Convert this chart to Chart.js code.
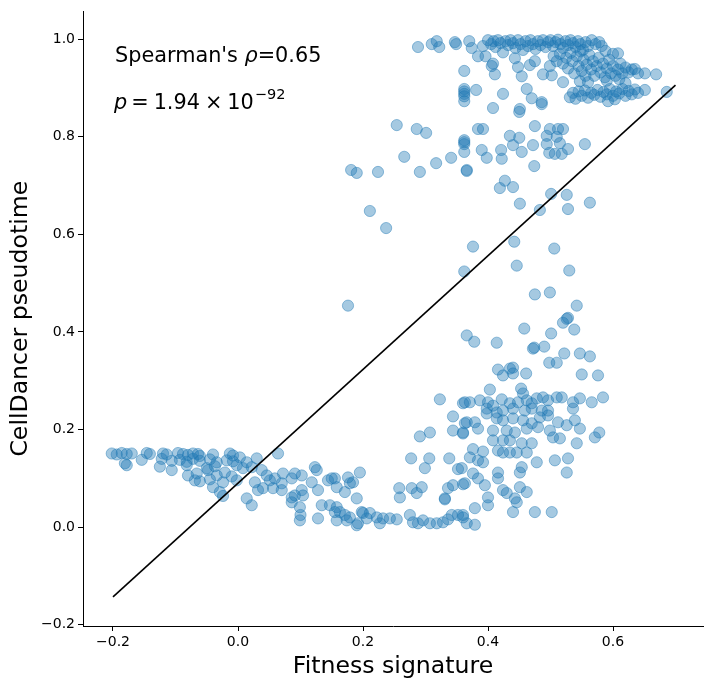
<!DOCTYPE html>
<html>
<head>
<meta charset="utf-8">
<title>Fitness signature vs CellDancer pseudotime</title>
<script src="https://cdn.jsdelivr.net/npm/chart.js@4.4.0/dist/chart.umd.min.js"></script>
<style>
  html, body { margin: 0; padding: 0; background: #fff; }
  canvas { display: block; }
</style>
</head>
<body>
<canvas id="fitnessChart" width="712" height="689"></canvas>
<script>
// [fitness signature, celldancer pseudotime], grouped by region
const earlyCells = [
  [-0.202,0.151],[-0.194,0.149],[-0.186,0.152],[-0.178,0.150],[-0.170,0.151],[-0.146,0.152],[-0.141,0.150],
  [-0.120,0.151],[-0.114,0.149],[-0.096,0.152],[-0.088,0.150],[-0.080,0.148],[-0.072,0.151],[-0.064,0.150],
  [-0.061,0.146],[-0.040,0.149],[-0.013,0.151],[-0.008,0.147],
  [-0.181,0.131],[-0.154,0.138],[-0.122,0.140],[-0.106,0.136],[-0.093,0.138],[-0.082,0.134],[-0.072,0.140],
  [-0.061,0.136],[-0.045,0.139],[-0.034,0.133],[-0.018,0.137],[-0.008,0.135],
  [-0.178,0.127],[-0.125,0.124],[-0.082,0.127],[-0.050,0.121],[-0.037,0.125],
  [-0.106,0.117],[-0.080,0.106],[-0.066,0.110],[-0.048,0.117],[-0.034,0.106],[-0.021,0.112],[-0.010,0.104],
  [-0.069,0.096],[-0.061,0.094],[-0.045,0.098],[-0.024,0.092],[-0.002,0.096],[-0.040,0.082],[-0.029,0.072],
  [-0.024,0.064]
];
const transitionCells = [
  [0.003,0.143],[0.014,0.133],[0.030,0.141],[0.064,0.151],[-0.002,0.127],[0.008,0.121],[0.022,0.123],
  [0.038,0.117],[0.046,0.106],[0.051,0.096],[0.059,0.100],[0.070,0.090],[0.072,0.110],[0.086,0.100],
  [0.102,0.106],[0.091,0.110],[0.123,0.123],[0.126,0.117],[0.118,0.092],[0.128,0.076],[0.102,0.076],
  [0.104,0.065],[0.091,0.065],[0.086,0.051],[0.099,0.041],[0.099,0.014],[0.100,0.025],[0.128,0.018],
  [0.134,0.045],[0.147,0.045],[0.144,0.096],[0.155,0.100],[0.176,0.102],[0.179,0.090],[0.184,0.092],
  [0.171,0.072],[0.190,0.059],[0.195,0.112],[0.158,0.041],[0.163,0.031],[0.171,0.025],[0.179,0.020],
  [0.190,0.004],[0.200,0.029],[0.206,0.018],[0.014,0.059],[0.022,0.045],[0.040,0.080],[0.032,0.076],
  [0.027,0.092],[0.056,0.080],[0.070,0.076],[0.086,0.061],
  [0.158,0.082],[0.150,0.100],[0.155,0.031],[0.174,0.014],[0.158,0.014],[0.192,0.008],[0.198,0.031],
  [0.211,0.029],[0.222,0.020],[0.232,0.018],[0.243,0.018],[0.254,0.016],[0.227,0.008],[0.275,0.025],
  [0.280,0.010],[0.288,0.008],[0.296,0.014],[0.307,0.008],[0.318,0.008],[0.328,0.010],[0.336,0.016],
  [0.342,0.025],[0.360,0.020],[0.366,0.008]
];
const lowLateCells = [
  [0.323,0.262],[0.360,0.254],[0.344,0.227],[0.363,0.213],[0.344,0.198],[0.360,0.192],[0.291,0.186],
  [0.307,0.194],[0.277,0.141],[0.306,0.141],[0.299,0.121],[0.338,0.141],[0.352,0.119],[0.258,0.080],
  [0.259,0.061],[0.278,0.080],[0.294,0.082],[0.286,0.070],[0.336,0.080],[0.344,0.086],[0.331,0.059],
  [0.331,0.057],[0.360,0.088],[0.352,0.025],
  [0.416,0.323],[0.424,0.311],[0.435,0.325],[0.440,0.327],[0.440,0.315],[0.461,0.315],[0.498,0.337],
  [0.510,0.337],[0.550,0.313],[0.576,0.311],[0.403,0.282],[0.453,0.284],[0.456,0.274],[0.363,0.256],
  [0.371,0.256],[0.387,0.260],[0.400,0.256],[0.408,0.249],[0.422,0.262],[0.435,0.254],[0.448,0.256],
  [0.462,0.260],[0.470,0.254],[0.478,0.264],[0.488,0.266],[0.496,0.260],[0.510,0.266],[0.518,0.266],
  [0.536,0.256],[0.547,0.264],[0.566,0.256],[0.584,0.266],[0.398,0.243],[0.398,0.233],[0.414,0.235],
  [0.424,0.239],[0.440,0.243],[0.459,0.239],[0.470,0.243],[0.486,0.239],[0.496,0.239],[0.536,0.243],
  [0.483,0.225],[0.496,0.229],[0.512,0.215],[0.539,0.219],[0.414,0.223],[0.424,0.219],[0.440,0.223],
  [0.456,0.219],[0.470,0.213],[0.480,0.205],[0.366,0.215],[0.379,0.215],[0.384,0.202],[0.360,0.194],
  [0.408,0.198],[0.430,0.198],[0.443,0.194],[0.462,0.202],[0.499,0.198],[0.526,0.209],[0.547,0.202],
  [0.504,0.184],[0.515,0.182],[0.571,0.184],[0.578,0.194],[0.408,0.178],[0.424,0.178],[0.435,0.178],
  [0.454,0.172],[0.470,0.172],[0.542,0.172],[0.416,0.157],[0.424,0.153],[0.435,0.153],[0.446,0.153],
  [0.462,0.153],[0.376,0.160],[0.392,0.155],[0.371,0.143],[0.384,0.137],[0.392,0.133],[0.478,0.133],
  [0.507,0.137],[0.528,0.141],[0.454,0.123],[0.526,0.112],[0.416,0.112],[0.451,0.112],[0.358,0.121],
  [0.376,0.110],[0.384,0.100],[0.416,0.100],[0.395,0.086],[0.363,0.090],[0.424,0.076],[0.451,0.082],
  [0.462,0.072],[0.430,0.070],[0.443,0.059],[0.446,0.051],[0.400,0.061],[0.400,0.045],[0.379,0.039],
  [0.440,0.031],[0.475,0.031],[0.502,0.031],[0.360,0.025],[0.379,0.005]
];
const midCells = [
  [0.254,0.824],[0.286,0.816],[0.301,0.808],[0.362,0.793],[0.362,0.789],[0.362,0.785],[0.362,0.769],
  [0.384,0.816],[0.392,0.816],[0.390,0.773],[0.398,0.757],[0.421,0.773],[0.422,0.755],[0.435,0.802],
  [0.450,0.798],[0.440,0.783],[0.454,0.769],[0.475,0.822],[0.472,0.783],[0.499,0.816],[0.512,0.816],
  [0.520,0.816],[0.494,0.802],[0.510,0.800],[0.515,0.787],[0.494,0.785],[0.528,0.775],[0.498,0.767],
  [0.507,0.765],[0.518,0.765],[0.555,0.785],[0.266,0.759],[0.317,0.746],[0.341,0.757],[0.224,0.728],
  [0.291,0.728],[0.366,0.730],[0.366,0.732],[0.474,0.740],[0.427,0.710],[0.419,0.695],[0.440,0.697],
  [0.451,0.663],[0.501,0.683],[0.526,0.681],[0.528,0.652],[0.483,0.650],[0.563,0.665],[0.211,0.648],
  [0.237,0.613],[0.376,0.575],[0.442,0.585],[0.506,0.571],[0.446,0.536],[0.362,0.524],[0.530,0.526],
  [0.475,0.477],[0.499,0.481],[0.542,0.454],[0.520,0.419],[0.526,0.427],[0.528,0.429],[0.538,0.405],
  [0.458,0.407],[0.501,0.397],[0.366,0.393],[0.378,0.380],[0.414,0.378],[0.472,0.366],[0.474,0.368],
  [0.490,0.370],[0.547,0.356],[0.522,0.356],[0.563,0.350],[0.181,0.732],[0.190,0.726],[0.176,0.454],
  [0.362,0.873],[0.408,0.859],[0.450,0.851],[0.486,0.867]
];
const lateCells = [
  [0.288,0.984],[0.310,0.990],[0.318,0.996],[0.322,0.984],[0.347,0.994],[0.349,0.990],[0.370,0.996],
  [0.374,0.982],[0.384,0.965],[0.392,0.986],[0.400,0.998],[0.405,0.990],[0.409,0.996],[0.412,0.984],
  [0.416,0.998],[0.420,0.992],[0.424,0.973],[0.428,0.996],[0.432,0.988],[0.436,0.998],[0.440,0.992],
  [0.444,0.982],[0.448,0.998],[0.452,0.990],[0.456,0.978],[0.460,0.996],[0.464,0.986],[0.468,0.998],
  [0.472,0.990],[0.476,0.980],[0.480,0.996],[0.484,0.988],[0.488,0.998],[0.492,0.984],[0.496,0.994],
  [0.500,0.998],[0.504,0.986],[0.508,0.994],[0.512,0.999],[0.516,0.990],[0.520,0.982],[0.524,0.996],
  [0.528,0.988],[0.532,0.998],[0.536,0.992],[0.540,0.984],[0.544,0.996],[0.548,0.990],[0.552,0.978],
  [0.556,0.994],[0.560,0.986],[0.566,0.998],[0.572,0.990],[0.578,0.994],[0.582,0.986],[0.588,0.976],
  [0.600,0.970],[0.608,0.971],
  [0.443,0.961],[0.448,0.943],[0.454,0.924],[0.462,0.898],[0.470,0.879],[0.486,0.871],[0.451,0.857],
  [0.424,0.888],[0.406,0.945],[0.411,0.928],[0.475,0.955],[0.488,0.928],[0.502,0.926],[0.520,0.912],
  [0.499,0.945],[0.467,0.947],[0.362,0.935],[0.362,0.898],[0.362,0.893],[0.362,0.888],[0.362,0.883],
  [0.381,0.896],[0.396,0.965],[0.408,0.950],
  [0.505,0.965],[0.510,0.955],[0.515,0.970],[0.520,0.950],[0.525,0.962],[0.528,0.940],[0.532,0.972],
  [0.535,0.955],[0.538,0.930],[0.542,0.965],[0.545,0.945],[0.548,0.975],[0.550,0.935],[0.553,0.958],
  [0.556,0.925],[0.558,0.948],[0.562,0.968],[0.565,0.938],[0.568,0.955],[0.570,0.925],[0.574,0.945],
  [0.577,0.962],[0.580,0.932],[0.584,0.950],[0.587,0.922],[0.590,0.940],[0.594,0.958],[0.597,0.930],
  [0.600,0.945],[0.604,0.925],[0.608,0.938],[0.612,0.950],[0.615,0.930],[0.620,0.942],[0.625,0.932],
  [0.630,0.938],[0.635,0.939],[0.640,0.930],[0.651,0.930],[0.669,0.928],[0.547,0.914],[0.560,0.912],
  [0.590,0.915],[0.610,0.918],[0.620,0.910],
  [0.531,0.881],[0.536,0.890],[0.540,0.878],[0.545,0.893],[0.550,0.884],[0.555,0.895],[0.560,0.880],
  [0.565,0.890],[0.570,0.886],[0.575,0.896],[0.580,0.882],[0.585,0.892],[0.590,0.887],[0.595,0.898],
  [0.600,0.884],[0.605,0.893],[0.592,0.873],[0.603,0.877],[0.610,0.889],[0.615,0.898],[0.620,0.884],
  [0.625,0.894],[0.630,0.887],[0.635,0.897],[0.640,0.890],[0.651,0.896],[0.686,0.892]
];

const fitLineX = [-0.2, 0.7];
const fitLineY = [-0.143, 0.906];

const xTicks = [-0.2, 0.0, 0.2, 0.4, 0.6];
const yTicks = [-0.2, 0.0, 0.2, 0.4, 0.6, 0.8, 1.0];

const spearmanRho = '0.65';
const pMantissa = '1.94';
const pExponent = '\u221292';

const allCells = [].concat(earlyCells, transitionCells, lowLateCells, midCells, lateCells)
  .map(p => ({ x: p[0], y: p[1] }));

const fmt = v => v.toFixed(1).replace('-', '\u2212');
const FONT = '"DejaVu Sans", sans-serif';

// draws a run of [font, text, dx, dy] pieces left to right
function drawRun(ctx, x, y, parts) {
  parts.forEach(([font, text, dx, dy]) => {
    ctx.font = font;
    x += dx || 0;
    ctx.fillText(text, x, y + (dy || 0));
    x += ctx.measureText(text).width;
  });
}

const statsText = {
  id: 'statsText',
  afterDraw(chart) {
    const ctx = chart.ctx;
    const reg = '20.8px ' + FONT, ita = 'italic 20.8px ' + FONT, sup = '14.5px ' + FONT;
    ctx.save();
    ctx.fillStyle = '#000';
    ctx.textBaseline = 'alphabetic';
    drawRun(ctx, 115, 62, [[reg, "Spearman's "], [ita, '\u03c1'], [reg, '=' + spearmanRho]]);
    drawRun(ctx, 114, 109, [[ita, 'p'], [reg, '=', 4], [reg, pMantissa, 5], [reg, '\u00d7', 5], [reg, '10', 5], [sup, pExponent, 1, -10]]);
    ctx.restore();
  }
};

const axisCommon = {
  type: 'linear',
  grid: { display: true, drawOnChartArea: false, drawTicks: true, tickLength: 5, color: '#000', lineWidth: 1 },
  border: { display: true, color: '#000', width: 1 },
  ticks: { color: '#000', font: { family: FONT, size: 14 }, padding: 3, callback: v => fmt(v) }
};

new Chart(document.getElementById('fitnessChart'), {
  type: 'scatter',
  data: {
    datasets: [
      {
        type: 'line',
        data: fitLineX.map((x, i) => ({ x, y: fitLineY[i] })),
        borderColor: '#000', borderWidth: 1.6, pointRadius: 0, fill: false, order: 0
      },
      {
        data: allCells,
        backgroundColor: 'rgba(31,119,180,0.4)',
        borderColor: 'rgba(31,119,180,0.45)',
        borderWidth: 1, pointRadius: 5.6, pointHoverRadius: 5.6, order: 1
      }
    ]
  },
  options: {
    responsive: false,
    animation: false,
    devicePixelRatio: 1,
    layout: { padding: { top: 10, right: 9, left: 0, bottom: 0 } },
    plugins: { legend: { display: false }, tooltip: { enabled: false } },
    scales: {
      x: {
        ...axisCommon,
        min: -0.248, max: 0.744,
        afterBuildTicks: s => { s.ticks = xTicks.map(v => ({ value: v })); },
        afterFit: s => { s.height = 63; },
        title: { display: true, text: 'Fitness signature', color: '#000', font: { family: FONT, size: 23.6 }, padding: { top: 0, bottom: 8 } }
      },
      y: {
        ...axisCommon,
        min: -0.2025, max: 1.057,
        afterBuildTicks: s => { s.ticks = yTicks.map(v => ({ value: v })); },
        afterFit: s => { s.width = 83; },
        title: { display: true, text: 'CellDancer pseudotime', color: '#000', font: { family: FONT, size: 23.6 }, padding: { top: 7, bottom: 0 } }
      }
    }
  },
  plugins: [statsText]
});
</script>
</body>
</html>
